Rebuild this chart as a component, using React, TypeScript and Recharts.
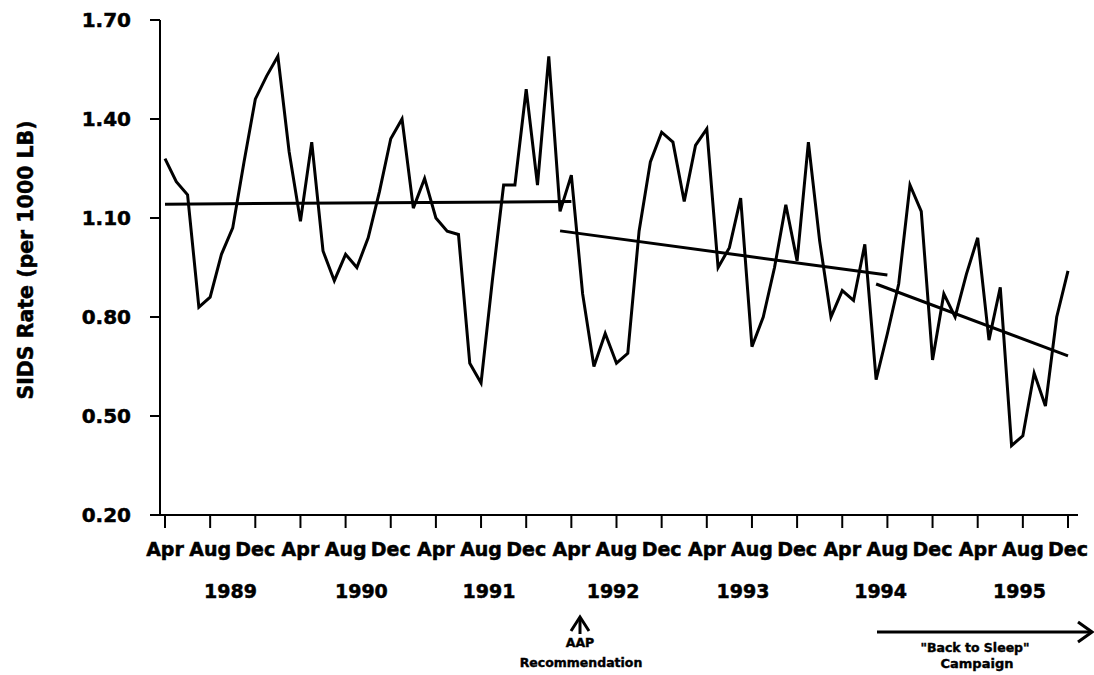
import { LineChart, Line, XAxis, YAxis } from 'recharts';

// monthly SIDS rate, Apr 1989 .. Dec 1995 (81 months)
const sidsRate = [
  1.28, 1.21, 1.17, 0.83, 0.86, 0.99, 1.07, 1.27, 1.46, 1.53, 1.59, 1.30,
  1.09, 1.33, 1.00, 0.91, 0.99, 0.95, 1.04, 1.18, 1.34, 1.40, 1.13, 1.22,
  1.10, 1.06, 1.05, 0.66, 0.60, 0.91, 1.20, 1.20, 1.49, 1.20, 1.59, 1.12,
  1.23, 0.87, 0.65, 0.75, 0.66, 0.69, 1.06, 1.27, 1.36, 1.33, 1.15, 1.32,
  1.37, 0.95, 1.01, 1.16, 0.71, 0.80, 0.95, 1.14, 0.97, 1.33, 1.03, 0.80,
  0.88, 0.85, 1.02, 0.61, 0.75, 0.90, 1.20, 1.12, 0.67, 0.87, 0.80, 0.93,
  1.04, 0.73, 0.89, 0.41, 0.44, 0.63, 0.53, 0.80, 0.94,
];

const tickLabels = [
  'Apr', 'Aug', 'Dec', 'Apr', 'Aug', 'Dec', 'Apr', 'Aug', 'Dec', 'Apr', 'Aug',
  'Dec', 'Apr', 'Aug', 'Dec', 'Apr', 'Aug', 'Dec', 'Apr', 'Aug', 'Dec',
];
const yearLabels = ['1989', '1990', '1991', '1992', '1993', '1994', '1995'];
const yearPos = [5.8, 17.4, 28.7, 39.7, 51.2, 63.4, 75.7];
const yTicks = [0.2, 0.5, 0.8, 1.1, 1.4, 1.7];

// fitted trend segments: [month, rate]
const trendPre = [[0, 1.142], [36, 1.15]];
const trendPost = [[35, 1.061], [64, 0.927]];
const trendCampaign = [[63, 0.9], [80, 0.682]];

const pick = (seg: number[][], m: number) => {
  const hit = seg.find((p) => p[0] === m);
  return hit ? hit[1] : null;
};

const rows = sidsRate.map((rate, m) => ({
  m,
  rate,
  t1: pick(trendPre, m),
  t2: pick(trendPost, m),
  t3: pick(trendCampaign, m),
}));

const font = "'DejaVu Sans', sans-serif";
const axisTick = { fill: '#000', stroke: '#000', strokeWidth: 0.5, fontSize: 19, fontWeight: 'bold', fontFamily: font };
const note = { fontFamily: font, fontWeight: 'bold', stroke: '#000', strokeWidth: 0.4, textAnchor: 'middle' as const };

export default function App() {
  return <div style={{ position: 'absolute', left: 0, top: 0, width: 1094, height: 675, background: '#fff' }}>
    <LineChart width={1094} height={675} data={rows} margin={{ top: 20, right: 16, left: 0, bottom: 70 }}>
      <XAxis
        dataKey="m" type="number" domain={[0, 80]} ticks={tickLabels.map((_, i) => i * 4)} interval={0}
        tickFormatter={(v: number) => tickLabels[Math.round(v / 4)]}
        padding={{ left: 5, right: 10 }} height={50} tickSize={13} tickMargin={15}
        axisLine={{ stroke: '#000', strokeWidth: 2 }} tickLine={{ stroke: '#000', strokeWidth: 2 }}
        tick={axisTick}
      />
      <XAxis
        xAxisId="year" dataKey="m" type="number" domain={[0, 80]} ticks={yearPos} interval={0}
        tickFormatter={(v: number) => yearLabels[yearPos.indexOf(v)]}
        padding={{ left: 5, right: 10 }} height={40} tickSize={0} tickMargin={20}
        axisLine={false} tickLine={false}
        tick={axisTick}
      />
      <YAxis
        domain={[0.2, 1.7]} ticks={yTicks} interval={0} width={160} tickSize={10} tickMargin={19}
        tickFormatter={(v: number) => v.toFixed(2)}
        axisLine={{ stroke: '#000', strokeWidth: 2 }} tickLine={{ stroke: '#000', strokeWidth: 2 }}
        tick={{ ...axisTick, fontSize: 20 }}
      />
      <Line dataKey="rate" stroke="#000" strokeWidth={3} dot={false} isAnimationActive={false} />
      <Line dataKey="t1" stroke="#000" strokeWidth={3} dot={false} connectNulls isAnimationActive={false} />
      <Line dataKey="t2" stroke="#000" strokeWidth={3} dot={false} connectNulls isAnimationActive={false} />
      <Line dataKey="t3" stroke="#000" strokeWidth={3} dot={false} connectNulls isAnimationActive={false} />
    </LineChart>

    <svg width={1094} height={675} style={{ position: 'absolute', left: 0, top: 0, pointerEvents: 'none' }}>
      <text x={26} y={260} transform="rotate(-90 26 260)" dominantBaseline="central" {...note}
        fontSize={20.5} strokeWidth={0.5}>SIDS Rate (per 1000 LB)</text>

      <line x1={580} y1={634} x2={580} y2={619} stroke="#000" strokeWidth={3} />
      <polyline points="571,631 580,617 589,631" fill="none" stroke="#000" strokeWidth={3} />
      <text x={580} y={647} {...note} fontSize={12.5}>AAP</text>
      <text x={581} y={667} {...note} fontSize={12.5}>Recommendation</text>

      <line x1={877} y1={632} x2={1090} y2={632} stroke="#000" strokeWidth={3} />
      <polyline points="1078,622 1092,632 1078,642" fill="none" stroke="#000" strokeWidth={3} />
      <text x={975} y={652} {...note} fontSize={12.5}>"Back to Sleep"</text>
      <text x={977} y={668} {...note} fontSize={13}>Campaign</text>
    </svg>
  </div>;
}
